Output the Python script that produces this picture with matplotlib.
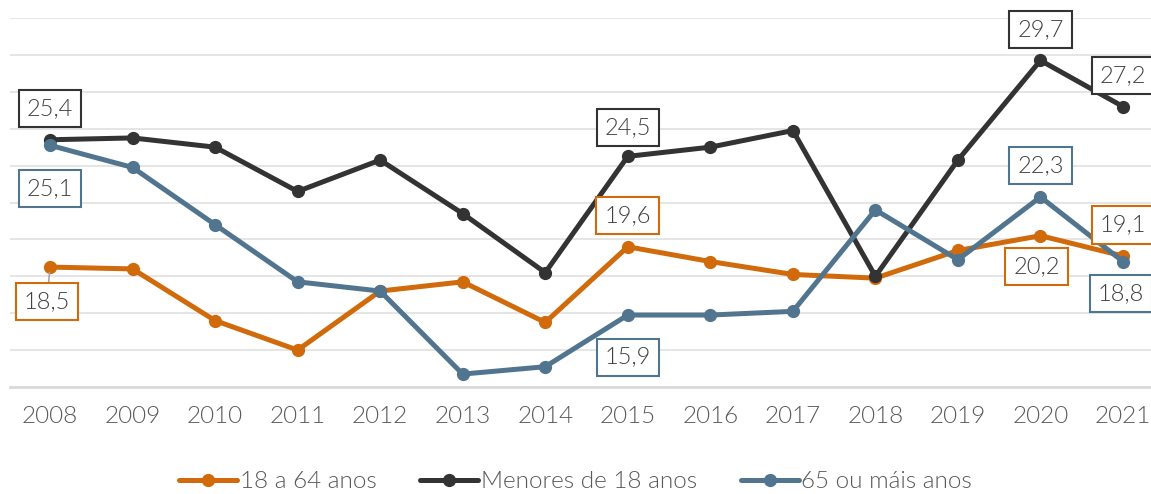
import numpy as np
import matplotlib
matplotlib.use("Agg")
import matplotlib.pyplot as plt

plt.rcParams['font.family'] = ['Lato', 'DejaVu Sans']
plt.rcParams['font.weight'] = 300

anos = [2008, 2009, 2010, 2011, 2012, 2013, 2014, 2015, 2016, 2017, 2018, 2019, 2020, 2021]
adultos = [18.5, 18.4, 15.6, 14.0, 17.2, 17.7, 15.5, 19.6, 18.8, 18.1, 17.9, 19.4, 20.2, 19.1]
menores = [25.4, 25.5, 25.0, 22.6, 24.3, 21.4, 18.2, 24.5, 25.0, 25.9, 18.0, 24.3, 29.7, 27.2]
mayores = [25.1, 23.9, 20.8, 17.7, 17.2, 12.7, 13.1, 15.9, 15.9, 16.1, 21.6, 18.9, 22.3, 18.8]

series_nombres = ["18 a 64 anos", "Menores de 18 anos", "65 ou máis anos"]
colores = ["#D06A0A", "#333333", "#52758F"]

# etiquetas: (serie, indice, desplazamiento en px)
etiquetas = [
    (0, 0, (-3, -34)), (1, 0, (0, 31)), (2, 0, (0, -43)),
    (0, 7, (0, 31)), (1, 7, (0, 29)), (2, 7, (0, -42)),
    (0, 12, (-4, -31)), (1, 12, (0, 31)), (2, 12, (0, 31)),
    (0, 13, (0, 31)), (1, 13, (0, 31)), (2, 13, (-2, -32)),
]

fig = plt.figure(figsize=(11.51, 4.94), dpi=100)
ax = fig.add_axes([10 / 1151, 1 - 387 / 494, 1 - 10 / 1151, 369 / 494])

datos = [adultos, menores, mayores]
for vals, nombre, col in zip(datos, series_nombres, colores):
    ax.plot(anos, vals, color=col, lw=3.6, marker="o", ms=8.5, label=nombre,
            solid_capstyle="round", clip_on=False)

for s, i, (dx, dy) in etiquetas:
    v = datos[s][i]
    txt = f"{v:.1f}".replace(".", ",")
    kw = {}
    if s == 0 and i == 0:
        kw["arrowprops"] = dict(arrowstyle="-", color="#A6A6A6", lw=1.2,
                                shrinkA=0, shrinkB=4)
    ax.annotate(txt, (anos[i], v), xytext=(dx * 0.72, dy * 0.72),
                textcoords="offset points", ha="center", va="center",
                fontsize=17, color="#404040", annotation_clip=False,
                bbox=dict(boxstyle="square,pad=0.34", fc="white",
                          ec=colores[s], lw=1.5), zorder=5, **kw)

ax.set_xlim(2008 - 40 / 82.54, 2021 + 28 / 82.54)
ax.set_ylim(12, 32)
ax.set_xticks(anos)
ax.set_yticks(np.arange(12, 33, 2))
ax.tick_params(axis="x", length=0, pad=14, labelsize=17.5, labelcolor="#595959")
ax.tick_params(axis="y", length=0, labelleft=False)
ax.grid(axis="y", color="#E3E3E3", lw=1.3)
ax.set_axisbelow(True)
for lado in ["top", "right", "left"]:
    ax.spines[lado].set_visible(False)
ax.spines["bottom"].set_color("#D9D9D9")
ax.spines["bottom"].set_linewidth(2)

fig.legend(loc="center", bbox_to_anchor=(0.5, 0.025), ncol=3, frameon=False,
           fontsize=17.5, labelcolor="#595959", handlelength=2.4,
           handletextpad=0.1, columnspacing=1.8, borderaxespad=0)

fig.savefig("out.png", dpi=100)
